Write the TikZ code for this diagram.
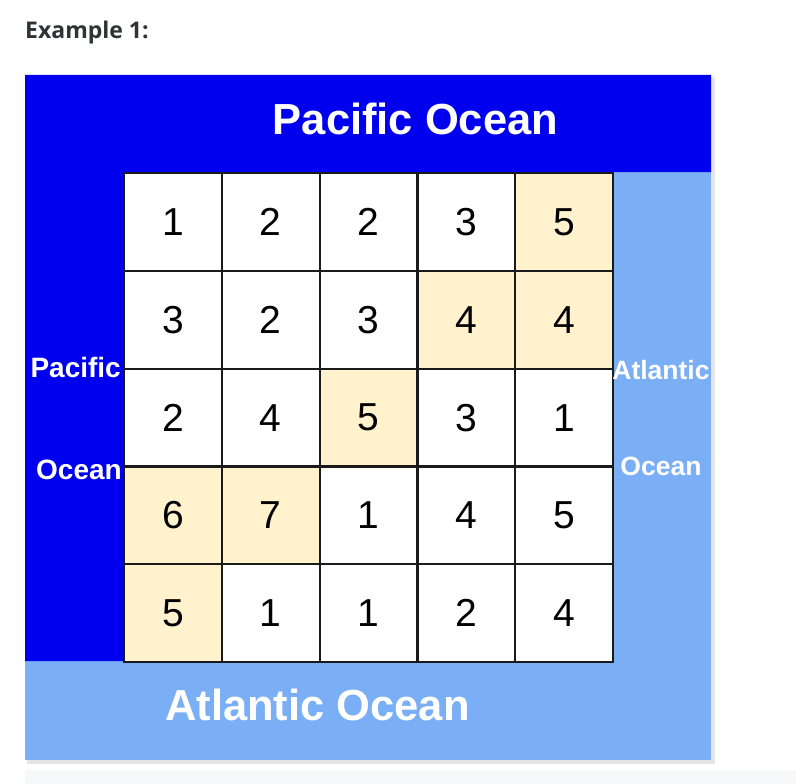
\documentclass[tikz,border=0pt]{standalone}
\usepackage{fontspec}
\setmainfont{Liberation Sans}
\newfontfamily\titlefont{Open Sans}
\definecolor{pacblue}{HTML}{0000EE}
\definecolor{atlblue}{HTML}{7BAFF5}
\definecolor{cream}{HTML}{FFF2CC}
\definecolor{titlegray}{HTML}{2D3436}
\definecolor{stripgray}{HTML}{F7F8FA}
\definecolor{gridline}{HTML}{1A1A1A}
\begin{document}
\begin{tikzpicture}[x=1pt,y=-1pt,
  cellbox/.style={draw=gridline,line width=2.2pt,fill=white,minimum width=97.8pt,minimum height=97.8pt,inner sep=0pt,anchor=north west,font=\fontsize{39}{39}\selectfont},
  hot/.style={fill=cream},
  biglabel/.style={text=white,font=\fontsize{43.5}{44}\selectfont\bfseries,inner sep=0pt},
  sidelabel/.style={text=white,font=\fontsize{28}{28}\selectfont\bfseries,inner sep=0pt},
  rightlabel/.style={text=white,font=\fontsize{26.5}{27}\selectfont\bfseries,inner sep=0pt}]
\useasboundingbox (0,0) rectangle (796,784);
\fill[white] (0,0) rectangle (796,784);
% title
\node[anchor=west,inner sep=0pt,text=titlegray,font=\titlefont\fontsize{23}{24}\selectfont\bfseries] (title) at (25,33) {Example 1:};
% bottom strip
\fill[stripgray] (25,770) rectangle (796,784);
% shadow
\fill[black!18] (28,78) rectangle (714,763);
\fill[black!10] (27,77) rectangle (715,764);
% oceans
\fill[atlblue] (25,75) rectangle (711,760);
\fill[pacblue] (25,75) -- (711,75) -- (711,172) -- (123,172) -- (123,661) -- (25,661) -- cycle;
% grid
\foreach \r/\row in {0/{1,2,2,3,5},1/{3,2,3,4,4},2/{2,4,5,3,1},3/{6,7,1,4,5},4/{5,1,1,2,4}}{
  \foreach \v [count=\c from 0] in \row {
    \node[cellbox] (c\r\c) at ({123+97.8*\c},{172+97.8*\r}) {\v};
  }
}
\foreach \n/\v in {c04/5,c13/4,c14/4,c22/5,c30/6,c31/7,c40/5}{
  \node[cellbox,hot] at (\n.north west) {\v};
}
% labels
\node[biglabel] (pac) at (415.5,119) {Pacific Ocean};
\node[biglabel] (atl) at (317.5,705) {Atlantic Ocean};
\node[sidelabel,anchor=east] (pl1) at (121,367) {Pacific};
\node[sidelabel,anchor=east] (pl2) at (122,470) {Ocean};
\node[rightlabel] (al1) at (661,370) {Atlantic};
\node[rightlabel] (al2) at (661,466) {Ocean};
\end{tikzpicture}
\end{document}
